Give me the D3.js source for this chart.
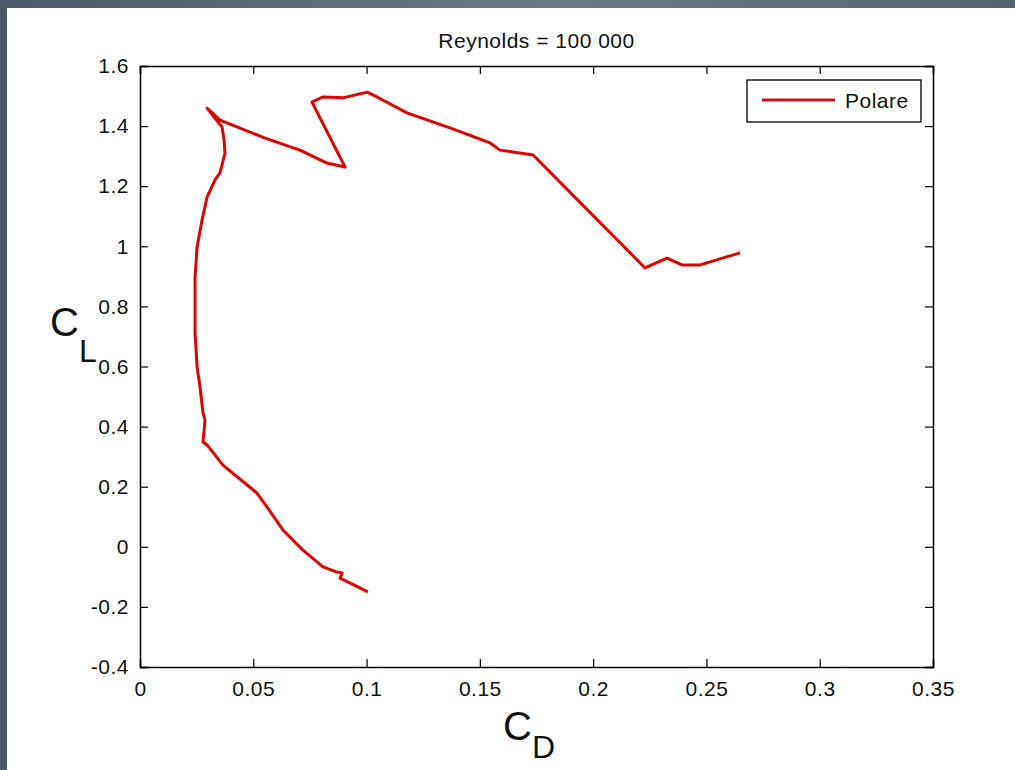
<!DOCTYPE html>
<html>
<head>
<meta charset="utf-8">
<script src="https://cdn.jsdelivr.net/npm/d3@7"></script>
<style>
  body { margin: 0; background: #4b5a67; }
  svg { display: block; }
  text { font-family: "Liberation Sans", Arial, sans-serif; fill: #111; }
</style>
</head>
<body>
<svg id="chart" width="1015" height="770"></svg>
<script>
// polar data (C_D, C_L)
const cd = [0.1006, 0.0883, 0.0892, 0.0869, 0.0808, 0.0719, 0.0631, 0.0561, 0.0516, 0.0366,
    0.0296, 0.0278, 0.0287, 0.0278, 0.0265, 0.0252, 0.0243, 0.0243, 0.0252, 0.0274,
    0.0296, 0.0331, 0.0353, 0.0375, 0.0371, 0.0362, 0.0296, 0.0353, 0.0552, 0.0706,
    0.0825, 0.0905, 0.0759, 0.0808, 0.0896, 0.1002, 0.1046, 0.1178, 0.1368, 0.1545,
    0.1589, 0.1735, 0.2229, 0.2326, 0.2392, 0.2472, 0.2648];
const cl = [-0.150, -0.104, -0.087, -0.084, -0.067, -0.011, 0.056, 0.132, 0.179, 0.272,
    0.339, 0.349, 0.422, 0.445, 0.532, 0.598, 0.711, 0.898, 0.998, 1.088,
    1.164, 1.221, 1.244, 1.310, 1.354, 1.397, 1.460, 1.420, 1.360, 1.320,
    1.277, 1.264, 1.480, 1.497, 1.494, 1.513, 1.497, 1.444, 1.394, 1.344,
    1.320, 1.304, 0.928, 0.961, 0.938, 0.938, 0.978];
const xTicks = [0, 0.05, 0.1, 0.15, 0.2, 0.25, 0.3, 0.35];
const yTicks = [-0.4, -0.2, 0, 0.2, 0.4, 0.6, 0.8, 1, 1.2, 1.4, 1.6];
const title = "Reynolds = 100 000";
const seriesName = "Polare";

const svg = d3.select("#chart");

// dark frame + white figure panel
const defs = svg.append("defs");
const grad = defs.append("linearGradient").attr("id", "frame").attr("x1", 0).attr("x2", 1);
grad.append("stop").attr("offset", "0%").attr("stop-color", "#4a5966");
grad.append("stop").attr("offset", "55%").attr("stop-color", "#6e7a83");
grad.append("stop").attr("offset", "100%").attr("stop-color", "#56636f");
svg.append("rect").attr("width", 1015).attr("height", 770).attr("fill", "url(#frame)");
svg.append("rect").attr("x", 0).attr("y", 8).attr("width", 7).attr("height", 762).attr("fill", "#4b5a67");
svg.append("rect").attr("x", 7).attr("y", 8).attr("width", 1008).attr("height", 762).attr("fill", "#fff");

const pLeft = 140, pRight = 933, pTop = 66, pBottom = 667;
const x = d3.scaleLinear().domain([0, 0.35]).range([pLeft, pRight]);
const y = d3.scaleLinear().domain([-0.4, 1.6]).range([pBottom, pTop]);

const g = svg.append("g");

// box axes with inward ticks on all sides
const tl = 8, fmt = d => String(d);
g.append("g").attr("transform", `translate(0,${pBottom})`)
    .call(d3.axisBottom(x).tickValues(xTicks).tickSize(-tl).tickPadding(14).tickFormat(fmt));
g.append("g").attr("transform", `translate(0,${pTop})`)
    .call(d3.axisTop(x).tickValues(xTicks).tickSize(-tl).tickFormat(""));
g.append("g").attr("transform", `translate(${pLeft},0)`)
    .call(d3.axisLeft(y).tickValues(yTicks).tickSize(-tl).tickPadding(11).tickFormat(fmt));
g.append("g").attr("transform", `translate(${pRight},0)`)
    .call(d3.axisRight(y).tickValues(yTicks).tickSize(-tl).tickFormat(""));

g.selectAll(".domain").attr("stroke", "#000").attr("stroke-width", 1.5);
g.selectAll(".tick line").attr("stroke", "#000").attr("stroke-width", 1.2);
g.selectAll(".tick text").attr("font-size", 21).attr("fill", "#111")
    .attr("font-family", "'Liberation Sans', Arial, sans-serif")
    .style("letter-spacing", "0.5px");

// the polar curve
const pts = cd.map((d, i) => [d, cl[i]]);
const line = d3.line().x(d => x(d[0])).y(d => y(d[1]));
g.append("path").datum(pts)
    .attr("d", line)
    .attr("fill", "none")
    .attr("stroke", "#dd0000")
    .attr("stroke-width", 3)
    .attr("stroke-linejoin", "round");

// title
svg.append("text").attr("x", (pLeft + pRight) / 2).attr("y", 48)
    .attr("text-anchor", "middle").attr("font-size", 21)
    .style("letter-spacing", "0.5px").text(title);

// axis labels
const xl = svg.append("text").attr("x", 503).attr("y", 740).attr("font-size", 40);
xl.append("tspan").text("C");
xl.append("tspan").attr("dy", 18).attr("font-size", 32).text("D");

const yl = svg.append("text").attr("x", 50).attr("y", 336).attr("font-size", 40);
yl.append("tspan").text("C");
yl.append("tspan").attr("dy", 26).attr("font-size", 32).text("L");

// legend
const lg = svg.append("g");
lg.append("rect").attr("x", 747).attr("y", 80).attr("width", 174).attr("height", 42)
    .attr("fill", "#fff").attr("stroke", "#000").attr("stroke-width", 1.3);
lg.append("line").attr("x1", 762).attr("x2", 835).attr("y1", 100).attr("y2", 100)
    .attr("stroke", "#cc1020").attr("stroke-width", 3);
lg.append("text").attr("x", 845).attr("y", 108).attr("font-size", 21)
    .style("letter-spacing", "0.5px").text(seriesName);
</script>
</body>
</html>
